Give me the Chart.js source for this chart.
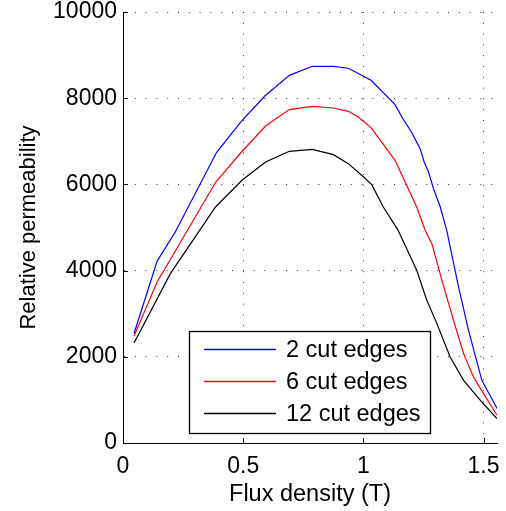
<!DOCTYPE html>
<html>
<head>
<meta charset="utf-8">
<script src="https://cdn.jsdelivr.net/npm/chart.js@4/dist/chart.umd.min.js"></script>
<style>
  html, body { margin: 0; padding: 0; background: #fff; }
  #wrap { width: 506px; height: 511px; }
</style>
</head>
<body>
<div id="wrap"><canvas id="c" width="506" height="511"></canvas></div>
<script>
// ---- data ----
const seriesLabels = ["2 cut edges", "6 cut edges", "12 cut edges"];
const seriesColors = ["#0000ff", "#ff0000", "#000000"];

const bBlue  = [0.046, 0.142, 0.218, 0.389, 0.493, 0.590, 0.692, 0.7875, 0.875, 0.9375, 1.032, 1.132, 1.16, 1.20, 1.236, 1.253, 1.271, 1.292, 1.32, 1.347, 1.361, 1.396, 1.4375, 1.493, 1.556];
const muBlue = [2540, 4220, 4900, 6740, 7470, 8050, 8530, 8740, 8740, 8695, 8415, 7850, 7565, 7215, 6830, 6520, 6290, 5900, 5475, 4935, 4550, 3620, 2615, 1455, 800];

const bRed  = [0.046, 0.142, 0.386, 0.493, 0.593, 0.692, 0.7875, 0.875, 0.9375, 0.979, 1.032, 1.132, 1.18, 1.222, 1.257, 1.285, 1.327, 1.375, 1.417, 1.458, 1.5, 1.556];
const muRed = [2480, 3735, 6056, 6752, 7355, 7735, 7812, 7773, 7696, 7564, 7318, 6559, 5979, 5476, 4935, 4626, 3775, 2847, 2074, 1531, 1146, 643];

const bBlack  = [0.046, 0.197, 0.385, 0.495, 0.593, 0.692, 0.7875, 0.875, 0.9375, 0.993, 1.035, 1.083, 1.143, 1.222, 1.264, 1.306, 1.361, 1.417, 1.493, 1.556];
const muBlack = [2320, 3930, 5476, 6095, 6520, 6768, 6814, 6691, 6482, 6211, 5995, 5476, 4951, 4007, 3311, 2770, 1995, 1455, 951, 566];

const xTicks = [0, 0.5, 1, 1.5];
const yTicks = [0, 2000, 4000, 6000, 8000, 10000];
const xTitle = "Flux density (T)";
const yTitle = "Relative permeability";

// ---- chart ----
const FONT = "'Liberation Sans', Arial, Helvetica, sans-serif";
const pts = (xs, ys) => xs.map((x, i) => ({ x: x, y: ys[i] }));

const legendInside = {
  id: 'legendInside',
  afterDraw(chart) {
    const ctx = chart.ctx;
    const left = 189.5, top = 331.5, right = 430.5, bottom = 433.5;
    ctx.save();
    ctx.setLineDash([]);
    ctx.fillStyle = '#fff';
    ctx.fillRect(left, top, right - left, bottom - top);
    ctx.strokeStyle = '#000';
    ctx.lineWidth = 1.3;
    ctx.strokeRect(left, top, right - left, bottom - top);
    const rows = [349.5, 381.5, 413.5];
    ctx.font = "23.5px " + FONT;
    ctx.textBaseline = 'middle';
    ctx.textAlign = 'left';
    chart.data.datasets.forEach((ds, i) => {
      ctx.beginPath();
      ctx.strokeStyle = seriesColors[i];
      ctx.lineWidth = 1.3;
      ctx.moveTo(204, rows[i]);
      ctx.lineTo(276, rows[i]);
      ctx.stroke();
      ctx.fillStyle = '#000';
      ctx.fillText(ds.label, 286, rows[i] + 1);
    });
    ctx.restore();
  }
};

const innerTicks = {
  id: 'innerTicks',
  afterDatasetsDraw(chart) {
    const ctx = chart.ctx, a = chart.chartArea;
    const xs = chart.scales.x, ys = chart.scales.y;
    ctx.save();
    ctx.setLineDash([]);
    ctx.strokeStyle = '#000';
    ctx.lineWidth = 1;
    ctx.beginPath();
    xTicks.forEach(v => {
      const p = Math.round(xs.getPixelForValue(v)) + 0.5;
      ctx.moveTo(p, a.bottom); ctx.lineTo(p, a.bottom - 5);
    });
    yTicks.forEach(v => {
      const p = Math.round(ys.getPixelForValue(v)) + 0.5;
      ctx.moveTo(a.left, p); ctx.lineTo(a.left + 5, p);
    });
    ctx.stroke();
    ctx.restore();
  }
};

new Chart(document.getElementById('c'), {
  type: 'scatter',
  data: {
    datasets: [
      { label: seriesLabels[0], data: pts(bBlue, muBlue),   borderColor: seriesColors[0] },
      { label: seriesLabels[1], data: pts(bRed, muRed),     borderColor: seriesColors[1] },
      { label: seriesLabels[2], data: pts(bBlack, muBlack), borderColor: seriesColors[2] }
    ].map(d => Object.assign(d, { showLine: true, pointRadius: 0, borderWidth: 1.2, tension: 0, fill: false }))
  },
  options: {
    responsive: false,
    animation: false,
    devicePixelRatio: 1,
    layout: { padding: { top: 12, right: 9, left: 0, bottom: 0 } },
    plugins: { legend: { display: false }, tooltip: { enabled: false } },
    scales: {
      x: {
        type: 'linear', min: 0, max: 1.556,
        afterBuildTicks: ax => { ax.ticks = xTicks.map(v => ({ value: v })); },
        afterFit: s => { s.height = 68; s.paddingLeft = 0; s.paddingRight = 0; },
        ticks: { color: '#000', font: { family: FONT, size: 23, lineHeight: 1 }, padding: 12, maxRotation: 0,
                 callback: v => String(v) },
        grid: { color: '#333', lineWidth: 1, drawTicks: false },
        border: { display: true, color: '#000', width: 1, dash: [1, 9.8] },
        title: { display: true, text: xTitle, color: '#000', font: { family: FONT, size: 23.5 }, padding: { top: 0, bottom: 2 } }
      },
      y: {
        type: 'linear', min: 0, max: 10000,
        afterBuildTicks: ax => { ax.ticks = yTicks.map(v => ({ value: v })); },
        afterFit: s => { s.width = 123; s.paddingTop = 0; s.paddingBottom = 0; },
        ticks: { color: '#000', font: { family: FONT, size: 23, lineHeight: 1 }, padding: 6, callback: v => String(v) },
        grid: { color: '#333', lineWidth: 1, drawTicks: false },
        border: { display: true, color: '#000', width: 1, dash: [1, 9.8] },
        title: { display: true, text: yTitle, color: '#000', font: { family: FONT, size: 22 }, padding: { top: 16, bottom: 0 } }
      }
    }
  },
  plugins: [innerTicks, legendInside]
});
</script>
</body>
</html>
